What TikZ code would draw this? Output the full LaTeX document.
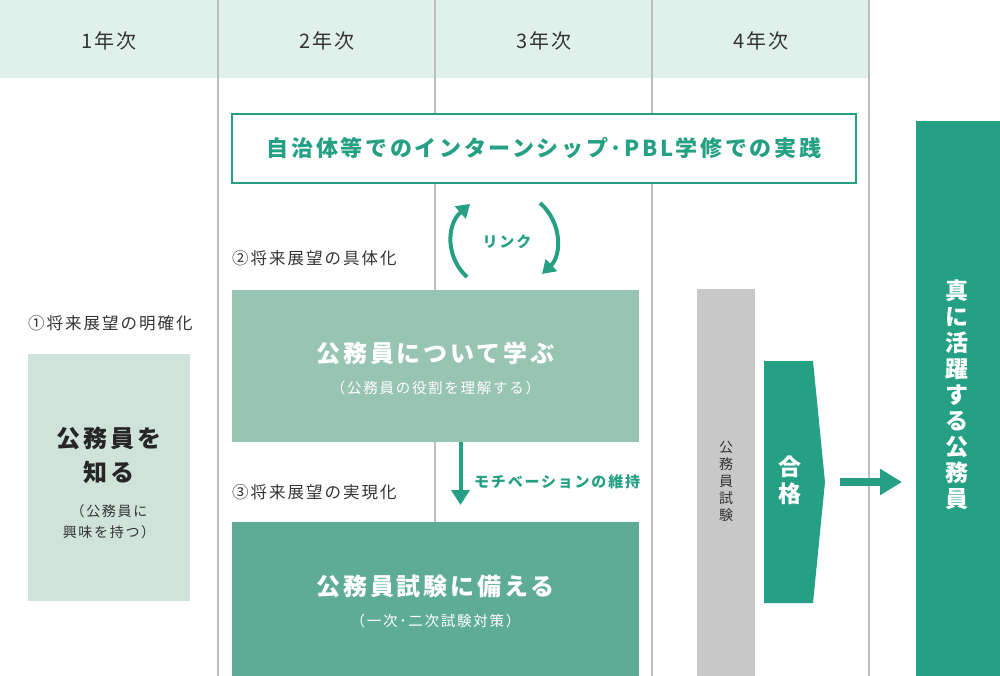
\documentclass[tikz,border=0pt]{standalone}
\usepackage{fontspec}
\setmainfont{Noto Sans CJK JP}[LetterSpace=12]
\usetikzlibrary{arrows.meta}

\definecolor{hdrmint}{HTML}{E0F1EC}
\definecolor{gridgray}{HTML}{BDBDBD}
\definecolor{kgreen}{HTML}{26A085}
\definecolor{knowfill}{HTML}{CFE3DA}
\definecolor{learnfill}{HTML}{98C4B3}
\definecolor{prepfill}{HTML}{5EAC95}
\definecolor{examgray}{HTML}{C8C8C8}
\definecolor{inkgray}{HTML}{333333}

\tikzset{
  yearlabel/.style={inner sep=0pt, text=inkgray, font=\fontsize{20}{24}\selectfont},
  phaselabel/.style={inner sep=0pt, anchor=west, text=inkgray, font=\fontsize{16.5}{20}\selectfont},
  plainbox/.style={inner sep=0pt, draw=none},
  bigtitle/.style={inner sep=0pt, align=center, font=\bfseries\fontsize{24}{34}\selectfont},
  subtitle/.style={inner sep=0pt, align=center, font=\fontsize{14.5}{21}\selectfont},
  greenlabel/.style={inner sep=0pt, text=kgreen, font=\bfseries\fontsize{15}{18}\selectfont},
  linkarrow/.style={kgreen, line width=4pt, -{Triangle[length=13pt,width=16pt]}},
}

\begin{document}
\begin{tikzpicture}[x=1pt, y=-1pt]
	%%%%% START %%%%%
	\useasboundingbox (0,0) rectangle (1000,676);
	
	\fill[hdrmint] (0,0) rectangle (869,78);
	\foreach \x in {218,435,652,869}
		\draw[gridgray, line width=1.2pt] (\x,0) -- (\x,676);
	
	\node[yearlabel] (year1) at (109,41) {1年次};
	\node[yearlabel] (year2) at (327,41) {2年次};
	\node[yearlabel] (year3) at (544,41) {3年次};
	\node[yearlabel] (year4) at (761,41) {4年次};
	
	\node[draw=kgreen, line width=2pt, fill=white, minimum width=624pt, minimum height=69pt, inner sep=0pt, text=kgreen, font=\bfseries\fontsize{22}{25}\selectfont] (practice) at (544,148.5) {自治体等でのインターンシップ･PBL学修での実践};
	
	\coordinate (linkA) at (467,277);
	\coordinate (linkB) at (470,204);
	\coordinate (linkC) at (540,203);
	\coordinate (linkD) at (542,274);
	\draw[linkarrow] (linkA) .. controls (446,258) and (446,225) .. (linkB);
	\draw[linkarrow] (linkC) .. controls (562,222) and (562,255) .. (linkD);
	\node[greenlabel] (link) at (507,242) {リンク};
	
	\node[phaselabel] (phase1) at (28,323) {①将来展望の明確化};
	\node[phaselabel] (phase2) at (232,258) {②将来展望の具体化};
	\node[phaselabel] (phase3) at (232,492) {③将来展望の実現化};
	
	\node[plainbox, fill=knowfill, minimum width=162pt, minimum height=247pt] (know) at (109,477.5) {};
	\node[bigtitle, text=black!85] (knowtitle) at (109,455) {公務員を\\知る};
	\node[subtitle, text=inkgray, font=\fontsize{14}{21}\selectfont] (knowsub) at (109,522) {（公務員に\\興味を持つ）};
	
	\node[plainbox, fill=learnfill, minimum width=407pt, minimum height=152pt] (learn) at (435.5,365.5) {};
	\node[bigtitle, text=white] (learntitle) at (435.5,353) {公務員について学ぶ};
	\node[subtitle, text=white] (learnsub) at (435.5,388) {（公務員の役割を理解する）};
	
	\node[plainbox, fill=prepfill, minimum width=407pt, minimum height=154pt] (prep) at (435.5,599) {};
	\node[bigtitle, text=white] (preptitle) at (435.5,586) {公務員試験に備える};
	\node[subtitle, text=white] (prepsub) at (435.5,621) {（一次･二次試験対策）};
	
	\coordinate (motivA) at (460.5,442);
	\coordinate (motivB) at (460.5,505);
	\draw[kgreen, line width=4pt, -{Triangle[length=15pt,width=18pt]}] (motivA) -- (motivB);
	\node[greenlabel, anchor=west] (motiv) at (474,482) {モチベーションの維持};
	
	\node[plainbox, fill=examgray, minimum width=58pt, minimum height=387pt] (exam) at (726,482.5) {};
	\node[inner sep=0pt, align=center, text=inkgray, font=\fontsize{14}{17}\selectfont] (examtext) at (726,481) {公\\務\\員\\試\\験};
	
	\fill[kgreen] (764,361) -- (813,361) -- (825,482) -- (813,603) -- (764,603) -- cycle;
	\node[inner sep=0pt, align=center, text=white, font=\bfseries\fontsize{23}{27}\selectfont] (pass) at (790,480) {合\\格};
	
	\coordinate (goA) at (840,482);
	\coordinate (goB) at (902,482);
	\draw[kgreen, line width=8pt, -{Triangle[length=22pt,width=25pt]}] (goA) -- (goB);
	
	\fill[kgreen] (916,121) rectangle (1000,676);
	\node[inner sep=0pt, align=center, text=white, font=\bfseries\fontsize{23}{26}\selectfont] (active) at (957,395) {真\\に\\活\\躍\\す\\る\\公\\務\\員};
	
	%%%%% END %%%%%
\end{tikzpicture}
\end{document}
